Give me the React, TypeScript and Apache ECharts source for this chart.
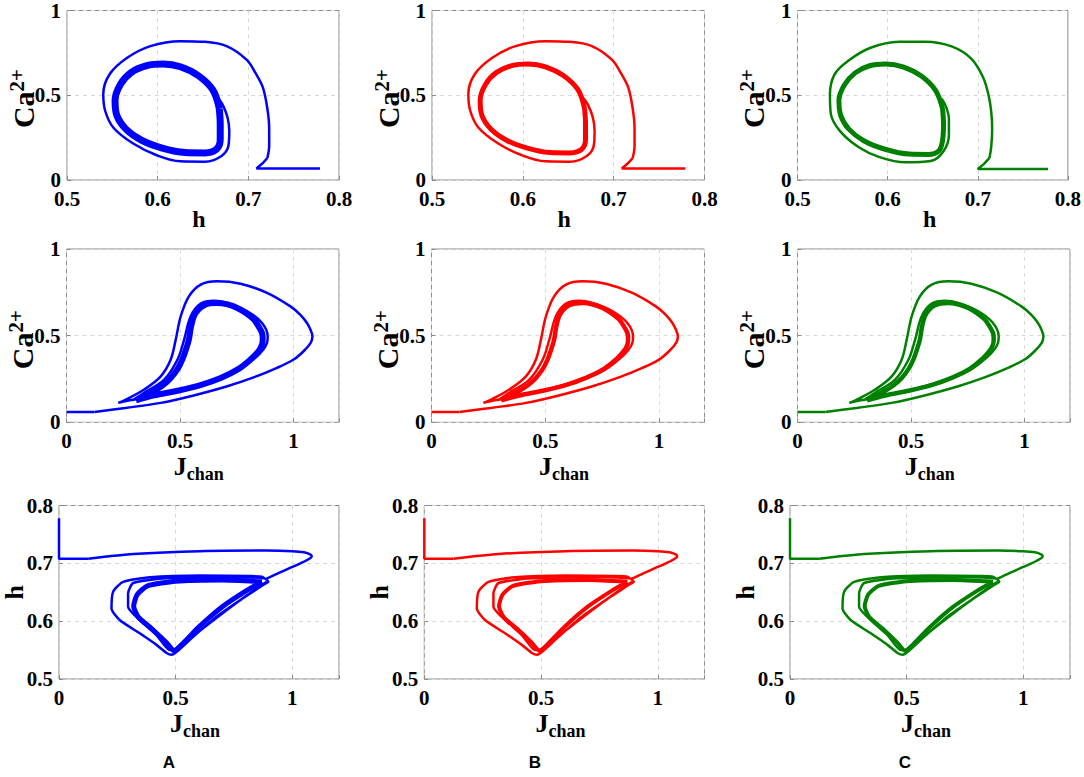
import React, { useEffect, useRef } from 'react';
import * as echarts from 'echarts';

const W = 1084;
const H = 777;
const SERIF = '"Liberation Serif", "Times New Roman", serif';
const SANS = '"Liberation Sans", Arial, sans-serif';

const COLORS = ['#0000ff', '#ff0000', '#008000'];
const PANEL_LETTERS = ['A', 'B', 'C'];

// tick labels
const hTicks = [0.5, 0.6, 0.7, 0.8];
const caTicks = [0, 0.5, 1];
const jTicks = [0, 0.5, 1];

// ---- Row 1: h (x) vs Ca2+ (y) ----
const r1TransAB = [[0.779, 0.068], [0.709, 0.068], [0.716, 0.1], [0.721, 0.13]];
const r1OuterAB = [
  [0.721, 0.13], [0.723, 0.2], [0.723, 0.3], [0.721, 0.42], [0.716, 0.546], [0.708, 0.63],
  [0.698, 0.71], [0.676, 0.79], [0.652, 0.815], [0.625, 0.819], [0.592, 0.79], [0.566, 0.72],
  [0.547, 0.624], [0.54, 0.507], [0.542, 0.41], [0.551, 0.31], [0.573, 0.215], [0.599, 0.146],
  [0.625, 0.11], [0.652, 0.108], [0.67, 0.14], [0.678, 0.2], [0.679, 0.29], [0.677, 0.37],
  [0.672, 0.44], [0.667, 0.48],
];
const r1BandAB = [
  [0.668, 0.42], [0.661, 0.53], [0.645, 0.615], [0.625, 0.668], [0.606, 0.684], [0.588, 0.675],
  [0.571, 0.635], [0.559, 0.565], [0.553, 0.47], [0.555, 0.38], [0.565, 0.3], [0.582, 0.235],
  [0.605, 0.188], [0.63, 0.162], [0.652, 0.16], [0.665, 0.182], [0.669, 0.24], [0.669, 0.33],
  [0.668, 0.42],
];
const r1TransC = [[0.778, 0.065], [0.7, 0.065], [0.707, 0.095], [0.713, 0.13]];
const r1OuterC = [
  [0.713, 0.13], [0.715, 0.2], [0.716, 0.3], [0.715, 0.4], [0.712, 0.5], [0.706, 0.605],
  [0.693, 0.715], [0.671, 0.788], [0.642, 0.816], [0.613, 0.815], [0.581, 0.78], [0.556, 0.702],
  [0.541, 0.622], [0.536, 0.505], [0.537, 0.39], [0.547, 0.29], [0.568, 0.193], [0.591, 0.135],
  [0.62, 0.104], [0.648, 0.112], [0.662, 0.17], [0.668, 0.265], [0.668, 0.36], [0.665, 0.43],
  [0.66, 0.48],
];
const r1BandC = [
  [0.661, 0.42], [0.653, 0.53], [0.637, 0.615], [0.617, 0.668], [0.598, 0.684], [0.58, 0.674],
  [0.564, 0.632], [0.552, 0.56], [0.546, 0.47], [0.548, 0.38], [0.557, 0.3], [0.574, 0.23],
  [0.598, 0.18], [0.624, 0.153], [0.645, 0.151], [0.657, 0.173], [0.661, 0.235], [0.662, 0.33],
  [0.661, 0.42],
];

// ---- Row 2: J_chan (x) vs Ca2+ (y) ----
const r2Trans = [[0, 0.06], [0.123, 0.06]];
const r2Outer = [
  [0.123, 0.06], [0.26, 0.083], [0.415, 0.112], [0.56, 0.155], [0.708, 0.208], [0.83, 0.262],
  [0.927, 0.314], [1.0, 0.362], [1.044, 0.41], [1.076, 0.46], [1.083, 0.496], [1.074, 0.535],
  [1.059, 0.573], [1.03, 0.62], [0.986, 0.669], [0.883, 0.747], [0.766, 0.8], [0.664, 0.814],
  [0.591, 0.795], [0.539, 0.727], [0.503, 0.612], [0.481, 0.477], [0.459, 0.362], [0.415, 0.265],
  [0.342, 0.189], [0.262, 0.131], [0.228, 0.112], [0.262, 0.123], [0.342, 0.141], [0.45, 0.172],
  [0.561, 0.208], [0.737, 0.285], [0.839, 0.381], [0.883, 0.458], [0.886, 0.496], [0.861, 0.573],
  [0.796, 0.641], [0.708, 0.689], [0.649, 0.702], [0.591, 0.685], [0.547, 0.612], [0.518, 0.477],
  [0.489, 0.362], [0.43, 0.246], [0.342, 0.17], [0.291, 0.127],
];
const r2Band = [
  [0.306, 0.127], [0.386, 0.155], [0.489, 0.182], [0.59, 0.215], [0.679, 0.256], [0.76, 0.31],
  [0.81, 0.362], [0.845, 0.41], [0.861, 0.448], [0.864, 0.485], [0.861, 0.516], [0.845, 0.555],
  [0.825, 0.593], [0.79, 0.63], [0.752, 0.66], [0.71, 0.68], [0.664, 0.689], [0.63, 0.686],
  [0.605, 0.675], [0.58, 0.65], [0.561, 0.612], [0.548, 0.55], [0.539, 0.477], [0.526, 0.42],
  [0.51, 0.362], [0.49, 0.31], [0.459, 0.256], [0.425, 0.215], [0.386, 0.182], [0.34, 0.15],
  [0.306, 0.127],
];

// ---- Row 3: J_chan (x) vs h (y) ----
const r3Trans = [[0, 0.778], [0, 0.708], [0.125, 0.708]];
const r3Outer = [
  [0.125, 0.708], [0.318, 0.716], [0.604, 0.721], [0.89, 0.722], [1.0, 0.721], [1.05, 0.719],
  [1.078, 0.715], [1.083, 0.712], [1.069, 0.707], [1.03, 0.699], [0.99, 0.692], [0.94, 0.683],
  [0.904, 0.676], [0.885, 0.673], [0.87, 0.677], [0.818, 0.678], [0.604, 0.679], [0.389, 0.676],
  [0.275, 0.668], [0.232, 0.651], [0.225, 0.622], [0.26, 0.602], [0.346, 0.579], [0.418, 0.559],
  [0.461, 0.545], [0.483, 0.542], [0.504, 0.547], [0.575, 0.573], [0.676, 0.608], [0.79, 0.64],
  [0.876, 0.663], [0.897, 0.668], [0.88, 0.674], [0.747, 0.676], [0.461, 0.674], [0.318, 0.666],
  [0.296, 0.648], [0.296, 0.625], [0.346, 0.602], [0.418, 0.576], [0.475, 0.55], [0.504, 0.55],
  [0.59, 0.579], [0.718, 0.619], [0.847, 0.657], [0.89, 0.668],
];
const r3Band = [
  [0.87, 0.668], [0.7, 0.671], [0.5, 0.669], [0.38, 0.661], [0.335, 0.646], [0.32, 0.626],
  [0.34, 0.607], [0.4, 0.586], [0.46, 0.563], [0.493, 0.549], [0.53, 0.561], [0.6, 0.59],
  [0.7, 0.625], [0.8, 0.652], [0.87, 0.668],
];

// layout (pixels)
const rowTops = [9, 249, 505.5];
const rowHeights = [171, 173.3, 173.5];
const colLefts = [[67, 432, 797.5], [66.5, 431.5, 797.5], [59, 424.3, 790]];
const colRights = [339, 704.5, 1070];
const bandWidths = [[7, 5, 5], [6, 4.5, 4.5], [5, 4, 4]];
const letterX = [169, 535, 905];

function fmt(ticks: number[]) {
  return (v: number) => {
    const t = ticks.find((k) => Math.abs(k - v) < 1e-6);
    return t === undefined ? '' : String(t);
  };
}

function axis(gridIndex: number, min: number, max: number, interval: number, ticks: number[], isX: boolean) {
  return {
    type: 'value',
    gridIndex,
    min,
    max,
    interval,
    axisLine: { show: false },
    axisTick: { show: true, inside: true, length: 4, lineStyle: { color: '#8a8a8a' } },
    axisLabel: {
      formatter: fmt(ticks),
      fontFamily: SERIF,
      fontWeight: 'bold',
      fontSize: 21,
      color: '#000',
      margin: isX ? 8 : 6,
      showMinLabel: true,
      showMaxLabel: true,
      hideOverlap: false,
    },
    splitLine: { show: true, lineStyle: { color: '#d9d9d9', type: [4, 4], width: 1 } },
  };
}

const caRich = {
  m: { fontSize: 30, fontWeight: 'bold', fontFamily: SERIF, fill: '#000', lineHeight: 32, verticalAlign: 'bottom' },
  s: { fontSize: 21, fontWeight: 'bold', fontFamily: SERIF, fill: '#000', lineHeight: 18, verticalAlign: 'top' },
};
const jRich = {
  m: { fontSize: 26, fontWeight: 'bold', fontFamily: SERIF, fill: '#000', lineHeight: 30, verticalAlign: 'top' },
  s: { fontSize: 18, fontWeight: 'bold', fontFamily: SERIF, fill: '#000', lineHeight: 18, verticalAlign: 'bottom' },
};

function textEl(x: number, y: number, text: string, opts: any = {}) {
  return {
    type: 'text',
    x,
    y,
    rotation: opts.rotation || 0,
    silent: true,
    style: {
      text,
      fill: '#000',
      fontFamily: opts.fontFamily || SERIF,
      fontWeight: 'bold',
      fontSize: opts.fontSize || 22,
      align: 'center',
      verticalAlign: 'middle',
      textAlign: 'center',
      textVerticalAlign: 'middle',
      rich: opts.rich,
    },
  };
}

function buildOption() {
  const grid: any[] = [];
  const xAxis: any[] = [];
  const yAxis: any[] = [];
  const series: any[] = [];
  const graphic: any[] = [];

  for (let row = 0; row < 3; row++) {
    for (let col = 0; col < 3; col++) {
      const gi = row * 3 + col;
      const left = colLefts[row][col];
      const right = colRights[col];
      const top = rowTops[row];
      const height = rowHeights[row];
      const bottom = top + height;
      grid.push({
        left,
        top,
        width: right - left,
        height,
        show: true,
        borderColor: '#8a8a8a',
        borderWidth: 1,
        backgroundColor: '#fff',
        containLabel: false,
      });
      if (row === 0) {
        xAxis.push(axis(gi, 0.5, 0.8, 0.1, hTicks, true));
        yAxis.push(axis(gi, 0, 1, 0.5, caTicks, false));
      } else if (row === 1) {
        xAxis.push(axis(gi, 0, 1.2, 0.5, jTicks, true));
        yAxis.push(axis(gi, 0, 1, 0.5, caTicks, false));
      } else {
        xAxis.push(axis(gi, 0, 1.2, 0.5, jTicks, true));
        yAxis.push(axis(gi, 0.5, 0.8, 0.1, hTicks, false));
      }

      let trans: number[][];
      let outer: number[][];
      let band: number[][];
      if (row === 0) {
        trans = col === 2 ? r1TransC : r1TransAB;
        outer = col === 2 ? r1OuterC : r1OuterAB;
        band = col === 2 ? r1BandC : r1BandAB;
      } else if (row === 1) {
        trans = r2Trans;
        outer = r2Outer;
        band = r2Band;
      } else {
        trans = r3Trans;
        outer = r3Outer;
        band = r3Band;
      }
      const color = COLORS[col];
      const smooth = row === 2 ? 0.2 : 0.35;
      const base = {
        type: 'line',
        xAxisIndex: gi,
        yAxisIndex: gi,
        showSymbol: false,
        symbol: 'none',
        silent: true,
        clip: true,
      };
      series.push({ ...base, data: trans, smooth: false, lineStyle: { color, width: 2.5 } });
      series.push({ ...base, data: outer, smooth, lineStyle: { color, width: 2.5 } });
      series.push({ ...base, data: band, smooth, lineStyle: { color, width: bandWidths[row][col] } });

      const cx = (left + right) / 2 - 4;
      const cy = (top + bottom) / 2;
      if (row === 0) {
        graphic.push(textEl(cx, bottom + 39, 'h', { fontSize: 24 }));
      } else {
        graphic.push(textEl(cx, bottom + 46, '{m|J}{s|chan}', { rich: jRich }));
      }
      if (row < 2) {
        graphic.push(textEl(left - 45, cy + 4, '{m|Ca}{s|2+}', { rich: caRich, rotation: Math.PI / 2 }));
      } else {
        graphic.push(textEl(left - 45, cy, 'h', { fontSize: 26, rotation: Math.PI / 2 }));
      }
    }
  }
  for (let col = 0; col < 3; col++) {
    graphic.push(textEl(letterX[col], 762, PANEL_LETTERS[col], { fontFamily: SANS, fontSize: 17 }));
  }

  return {
    animation: false,
    backgroundColor: '#fff',
    grid,
    xAxis,
    yAxis,
    series,
    graphic,
  };
}

export default function App() {
  const ref = useRef<HTMLDivElement>(null);
  useEffect(() => {
    document.body.style.margin = '0';
    const chart = echarts.init(ref.current as HTMLDivElement, null, { renderer: 'svg', width: W, height: H });
    chart.setOption(buildOption() as any);
    return () => chart.dispose();
  }, []);
  return <div ref={ref} style={{ width: W, height: H, background: '#fff' }} />;
}
